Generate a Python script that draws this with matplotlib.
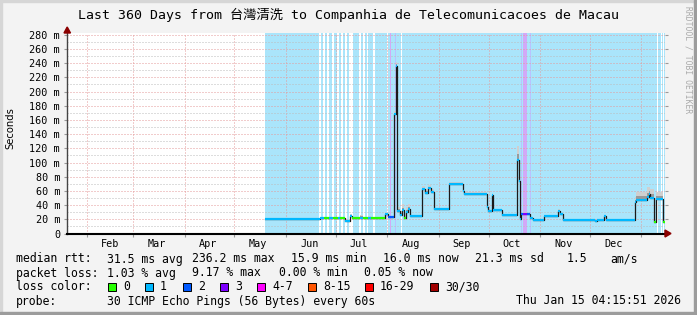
import numpy as np
import pandas as pd
import matplotlib
matplotlib.use('Agg')
import matplotlib.pyplot as plt
import matplotlib.dates as mdates
from matplotlib.patches import Rectangle, Polygon
from matplotlib.collections import LineCollection

W, H = 697, 315

start = pd.Timestamp('2025-01-20 04:15:51')
end = pd.Timestamp('2026-01-15 04:15:51')

# median rtt as steps: start day (offset from start), value in ms, loss class, smoke above median
med_days = [119.2, 152.3, 155.0, 157.5, 160.0, 163.0, 164.4, 167.4, 170.4, 171.6,
            176.4, 178.0, 181.2, 183.0, 191.5, 193.3, 196.9, 197.8, 198.7, 200.5,
            201.7, 202.9, 204.1, 205.3, 206.5, 213.7, 215.5, 217.3, 219.1, 221.0,
            229.7, 238.4, 239.0, 252.9, 253.5, 255.9, 256.5, 261.9, 270.9, 271.2,
            272.0, 272.7, 273.3, 274.8, 276.9, 278.7, 280.5, 287.2, 295.6, 296.8,
            298.6, 317.9, 319.1, 323.3, 324.5, 342.0, 342.6, 349.2, 350.4, 351.0,
            353.2, 354.6, 358.8]
med_ms = [20.0, 21.5, 21.5, 22.0, 21.5, 22.0, 21.5, 17.0, 25.0, 21.5,
          22.5, 21.5, 22.5, 22.0, 28.0, 23.0, 168.0, 236.0, 32.0, 26.0,
          33.0, 22.0, 30.0, 35.0, 24.0, 62.0, 57.0, 64.0, 58.0, 34.0,
          70.0, 60.0, 55.5, 37.0, 32.0, 54.0, 33.0, 26.0, 51.0, 103.0,
          74.0, 20.5, 27.5, 28.0, 27.5, 22.0, 19.0, 25.0, 31.0, 28.0,
          19.6, 17.0, 19.6, 24.0, 19.6, 45.0, 47.0, 51.0, 56.0, 50.0,
          16.0, 48.5, 16.0]
med_loss = [1, 1, 0, 1, 0, 1, 0, 1, 1, 0,
            1, 0, 1, 0, 1, 2, 1, 1, 1, 1,
            1, 0, 1, 1, 1, 1, 1, 1, 1, 1,
            1, 1, 1, 1, 1, 1, 1, 1, 1, 1,
            1, 1, 2, 3, 2, 1, 1, 1, 1, 1,
            1, 1, 1, 1, 1, 1, 1, 1, 1, 1,
            0, 1, 0]
smoke_up = [0.5, 1, 1, 1, 1, 1, 1, 0.5, 3, 1,
            4, 1, 2, 1, 2, 1, 4, 6, 6, 5,
            8, 4, 7, 6, 1, 5, 5, 4, 4, 1,
            2, 1, 3, 1, 1, 2, 1, 2, 3, 20,
            5, 1, 2, 2, 2, 1, 1, 1, 3, 1,
            1, 1, 1, 1, 1, 6, 12, 14, 10, 12,
            1, 10, 1]

# loss background: white gaps (0 loss) and stripes over the cyan (1 loss)
bg_from, bg_to = 119.2, 360.0
gap_from = [152.0, 154.4, 156.8, 159.8, 162.3, 164.7, 167.4, 169.5, 175.5, 177.9,
            180.6, 184.5, 192.4, 200.8, 354.9, 357.3, 358.8]
gap_to = [153.2, 155.6, 158.0, 160.7, 163.5, 165.9, 168.3, 172.2, 176.7, 179.1,
          181.5, 185.7, 193.3, 201.7, 355.5, 357.9, 359.4]
stripe_from = [194.2, 197.2, 273.6, 274.8, 278.5]
stripe_to = [194.8, 197.8, 274.2, 276.9, 279.1]
stripe_loss = [3, 2, 2, 3, 2]

loss_colors = ['#26ff00', '#00b8ff', '#0059ff', '#7e00ff', '#ff00ff', '#ff5500', '#ff0000', '#a10000']
loss_bg = ['#ffffff', '#aae5fb', '#b9c2ff', '#d2a9f7']
loss_labels = ['0', '1', '2', '3', '4-7', '8-15', '16-29', '30/30']
month_labels = ['Feb', 'Mar', 'Apr', 'May', 'Jun', 'Jul', 'Aug', 'Sep', 'Oct', 'Nov', 'Dec']

MONO = 'DejaVu Sans Mono'


def fx(x):
    return x / W


def fy(y):
    return 1 - y / H


fig = plt.figure(figsize=(W / 100, H / 100), dpi=100, facecolor='#f3f3f3')
ax = fig.add_axes([fx(67), (H - 233.5) / H, 598 / W, 200.5 / H])
ax.set_facecolor('white')

t0 = mdates.date2num(start)
t1 = mdates.date2num(end)

# loss background
ax.axvspan(t0 + bg_from, t0 + bg_to, color=loss_bg[1], lw=0, zorder=1)
for a, b in zip(gap_from, gap_to):
    ax.axvspan(t0 + a, t0 + b, color=loss_bg[0], lw=0, zorder=1.1)
for a, b, l in zip(stripe_from, stripe_to, stripe_loss):
    ax.axvspan(t0 + a, t0 + b, color=loss_bg[l], lw=0, zorder=1.1)

xs = t0 + np.array(med_days + [360.0])
vals = np.array(med_ms + [med_ms[-1]])
up = np.array(smoke_up + [smoke_up[-1]])

# smoke
ax.fill_between(xs, vals - 0.6, vals + up, step='post', color='#cfcfcf', lw=0, zorder=3)
ax.fill_between(xs, vals - 0.3, vals + up * 0.45, step='post', color='#9a9a9a', lw=0, zorder=3.1)

# median
ax.step(xs, vals, where='post', color='#1a1a1a', lw=0.9, zorder=4)
segs = [[(xs[i], vals[i]), (xs[i + 1], vals[i])] for i in range(len(med_ms))]
lc = LineCollection(segs, colors=[loss_colors[l] for l in med_loss], linewidths=1.6,
                    capstyle='butt', zorder=5)
ax.add_collection(lc)

ax.set_xlim(t0, t1)
ax.set_ylim(0, 282.5)

# grid
ax.set_axisbelow(False)
ax.set_yticks(range(0, 281, 20))
ax.set_yticks(range(10, 281, 20), minor=True)
ax.set_yticklabels(['0'] + ['%d m' % v for v in range(20, 281, 20)], family=MONO, fontsize=7.3)
ax.grid(True, which='major', axis='y', color='#e49a9a', lw=0.72, ls=(0, (1, 2)))
ax.grid(True, which='minor', axis='y', color='#bdbdbd', lw=0.72, ls=(0, (1, 2)))

ax.xaxis.set_major_locator(mdates.MonthLocator())
ax.xaxis.set_major_formatter(plt.NullFormatter())
mids = [mdates.date2num(pd.Timestamp(2025, m, 15)) for m in range(2, 13)]
ax.set_xticks(mids, minor=True)
ax.set_xticklabels(month_labels, minor=True, family=MONO, fontsize=7.3)
ax.grid(True, which='major', axis='x', color='#e49a9a', lw=0.72, ls=(0, (1, 2)))
ax.tick_params(axis='x', which='minor', length=0, pad=4)
ax.tick_params(axis='x', which='major', length=2, color='#999999')
ax.tick_params(axis='y', which='major', length=2.5, color='#999999', pad=2.5, right=True)
ax.tick_params(axis='y', which='minor', length=0)

for s in ['top', 'right']:
    ax.spines[s].set_visible(False)
ax.spines['left'].set_color('#444444')
ax.spines['left'].set_linewidth(1.0)
ax.spines['bottom'].set_color('#000000')
ax.spines['bottom'].set_linewidth(1.5)
ax.spines['left'].set_zorder(6)
ax.spines['bottom'].set_zorder(6)

# axis arrows
fig.add_artist(Polygon([(fx(64), fy(33)), (fx(70.5), fy(33)), (fx(67.2), fy(27))],
                       closed=True, color='#8b0000', transform=fig.transFigure))
fig.add_artist(Polygon([(fx(665), fy(230)), (fx(665), fy(237)), (fx(671), fy(233.5))],
                       closed=True, color='#8b0000', transform=fig.transFigure))

# frame
fig.add_artist(Rectangle((0, 0), fx(2), 1, color='#d6d6d6', transform=fig.transFigure))
fig.add_artist(Rectangle((0, fy(2)), 1, 2 / H, color='#d6d6d6', transform=fig.transFigure))
fig.add_artist(Rectangle((fx(694), 0), 3 / W, 1, color='#9c9c9c', transform=fig.transFigure))
fig.add_artist(Rectangle((0, 0), 1, 3 / H, color='#9c9c9c', transform=fig.transFigure))

# texts
fig.text(fx(348), fy(15), 'Last 360 Days from 台灣清洗 to Companhia de Telecomunicacoes de Macau',
         ha='center', va='center', fontsize=9.5, family=[MONO, 'Noto Sans CJK TC'])
fig.text(fx(10), fy(128), 'Seconds', rotation=90, ha='center', va='center',
         fontsize=7.2, family='DejaVu Sans')
fig.text(fx(688), fy(6), 'RRDTOOL / TOBI OETIKER', rotation=270, ha='center', va='top',
         fontsize=5.8, family=MONO, color='#aaaaaa')

LS = 8.3
row1 = [(16, 'median rtt:'), (107, '31.5 ms avg'), (192, '236.2 ms max'), (291, '15.9 ms min'),
        (383, '16.0 ms now'), (475, '21.3 ms sd'), (567, '1.5'), (610, 'am/s')]
row2 = [(16, 'packet loss:'), (107, '1.03 % avg'), (192, '9.17 % max'), (279, '0.00 % min'),
        (364, '0.05 % now')]
for x, s in row1:
    fig.text(fx(x), fy(259), s, va='center', fontsize=LS, family=MONO)
for x, s in row2:
    fig.text(fx(x), fy(273), s, va='center', fontsize=LS, family=MONO)

fig.text(fx(16), fy(287), 'loss color:', va='center', fontsize=LS, family=MONO)
sw_x = [108, 145, 183, 220, 257, 308, 365, 430]
for x, c, lab in zip(sw_x, loss_colors, loss_labels):
    fig.add_artist(Rectangle((fx(x), fy(291)), 8 / W, 8 / H, facecolor=c, edgecolor='black',
                             lw=0.7, transform=fig.transFigure))
    fig.text(fx(x + 15), fy(287), lab, va='center', fontsize=LS, family=MONO)

fig.text(fx(16), fy(301), 'probe:', va='center', fontsize=LS, family=MONO)
fig.text(fx(107), fy(301), '30 ICMP Echo Pings (56 Bytes) every 60s', va='center',
         fontsize=LS, family=MONO)
fig.text(fx(681), fy(301), 'Thu Jan 15 04:15:51 2026', va='center', ha='right',
         fontsize=LS, family=MONO)

fig.savefig('out.png', dpi=100, facecolor=fig.get_facecolor())
